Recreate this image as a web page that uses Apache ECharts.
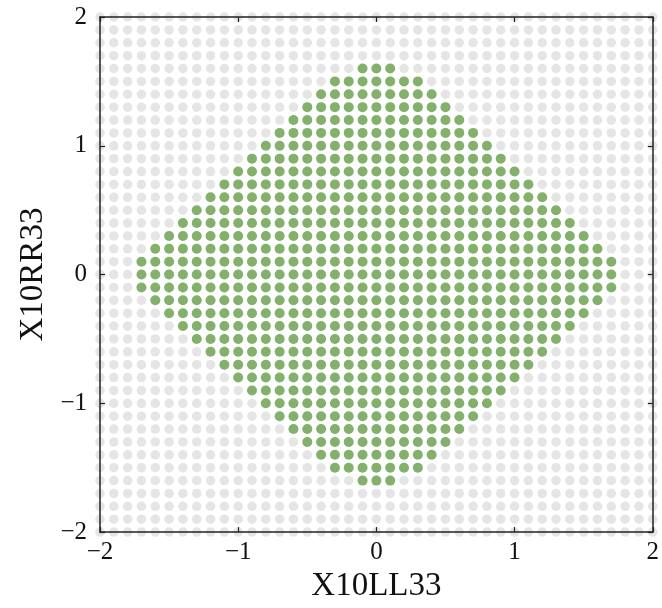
<!DOCTYPE html>
<html>
<head>
<meta charset="utf-8">
<title>X10LL33 / X10RR33</title>
<script src="https://cdn.jsdelivr.net/npm/echarts@6/dist/echarts.min.js"></script>
<style>
  html, body { margin: 0; padding: 0; background: #fff; }
  #chart { width: 662px; height: 608px; }
</style>
</head>
<body>
<div id="chart"></div>
<script>
// Sample lattice along each axis (same values used for both x and y)
const gridTicks = [
  -2.0, -1.9, -1.8, -1.7, -1.6, -1.5, -1.4, -1.3, -1.2, -1.1,
  -1.0, -0.9, -0.8, -0.7, -0.6, -0.5, -0.4, -0.3, -0.2, -0.1,
   0.0,  0.1,  0.2,  0.3,  0.4,  0.5,  0.6,  0.7,  0.8,  0.9,
   1.0,  1.1,  1.2,  1.3,  1.4,  1.5,  1.6,  1.7,  1.8,  1.9, 2.0
];

// Rows of the accepted region and their half-width in X10LL33
const rowY = [
   1.6,  1.5,  1.4,  1.3,  1.2,  1.1,  1.0,  0.9,  0.8,  0.7,  0.6,
   0.5,  0.4,  0.3,  0.2,  0.1,  0.0, -0.1, -0.2, -0.3, -0.4, -0.5,
  -0.6, -0.7, -0.8, -0.9, -1.0, -1.1, -1.2, -1.3, -1.4, -1.5, -1.6
];
const rowHalfWidth = [
   0.1,  0.3,  0.4,  0.5,  0.6,  0.7,  0.8,  0.9,  1.0,  1.1,  1.2,
   1.3,  1.4,  1.5,  1.6,  1.7,  1.7,  1.7,  1.6,  1.5,  1.4,  1.3,
   1.2,  1.1,  1.0,  0.9,  0.8,  0.7,  0.6,  0.5,  0.4,  0.3,  0.1
];

const axisTickValues = [-2, -1, 0, 1, 2];
const axisTickLabels = ['\u22122', '\u22121', '0', '1', '2'];

// Full background lattice
const latticePoints = [];
gridTicks.forEach(function (y) {
  gridTicks.forEach(function (x) { latticePoints.push([x, y]); });
});

// Accepted points: every lattice column inside each row's half-width
const acceptedPoints = [];
rowY.forEach(function (y, i) {
  const hw = rowHalfWidth[i];
  gridTicks.forEach(function (x) {
    if (Math.abs(x) <= hw + 1e-9) acceptedPoints.push([x, y]);
  });
});

function tickLabel(v) {
  const k = axisTickValues.indexOf(Math.round(v));
  return k >= 0 ? axisTickLabels[k] : '';
}

const serif = '"Liberation Serif", "DejaVu Serif", serif';
const frameLine = { show: true, onZero: false, lineStyle: { color: '#222', width: 1.5 } };
const innerTick = { show: true, inside: true, length: 5, lineStyle: { color: '#222', width: 1.2 } };

const chart = echarts.init(document.getElementById('chart'), null, { renderer: 'canvas' });
chart.setOption({
  backgroundColor: '#ffffff',
  animation: false,
  grid: { left: 100, right: 4, top: 17, bottom: 67, containLabel: false },
  xAxis: [
    {
      type: 'value', min: -2, max: 2, interval: 1, z: 10,
      name: 'X10LL33', nameLocation: 'middle', nameGap: 36,
      nameTextStyle: { fontFamily: serif, fontSize: 33, color: '#111' },
      axisLine: frameLine, axisTick: innerTick, splitLine: { show: false },
      axisLabel: { fontFamily: serif, fontSize: 25, color: '#111', margin: 8, formatter: tickLabel }
    },
    {
      type: 'value', position: 'top', min: -2, max: 2, interval: 1, z: 10,
      axisLine: frameLine, axisTick: innerTick, splitLine: { show: false },
      axisLabel: { show: false }
    }
  ],
  yAxis: [
    {
      type: 'value', min: -2, max: 2, interval: 1, z: 10,
      name: 'X10RR33', nameLocation: 'middle', nameGap: 43,
      nameTextStyle: { fontFamily: serif, fontSize: 33, color: '#111' },
      axisLine: frameLine, axisTick: innerTick, splitLine: { show: false },
      axisLabel: { fontFamily: serif, fontSize: 25, color: '#111', margin: 13, formatter: tickLabel }
    },
    {
      type: 'value', position: 'right', min: -2, max: 2, interval: 1, z: 10,
      axisLine: frameLine, axisTick: innerTick, splitLine: { show: false },
      axisLabel: { show: false }
    }
  ],
  series: [
    {
      name: 'lattice', type: 'scatter', data: latticePoints, clip: false,
      symbol: 'circle', symbolSize: 9.5, z: 1,
      itemStyle: { color: '#dedede' }, silent: true
    },
    {
      name: 'accepted', type: 'scatter', data: acceptedPoints, clip: false,
      symbol: 'circle', symbolSize: 10, z: 2,
      itemStyle: { color: '#6aa44e' }, silent: true
    }
  ]
});
</script>
</body>
</html>
